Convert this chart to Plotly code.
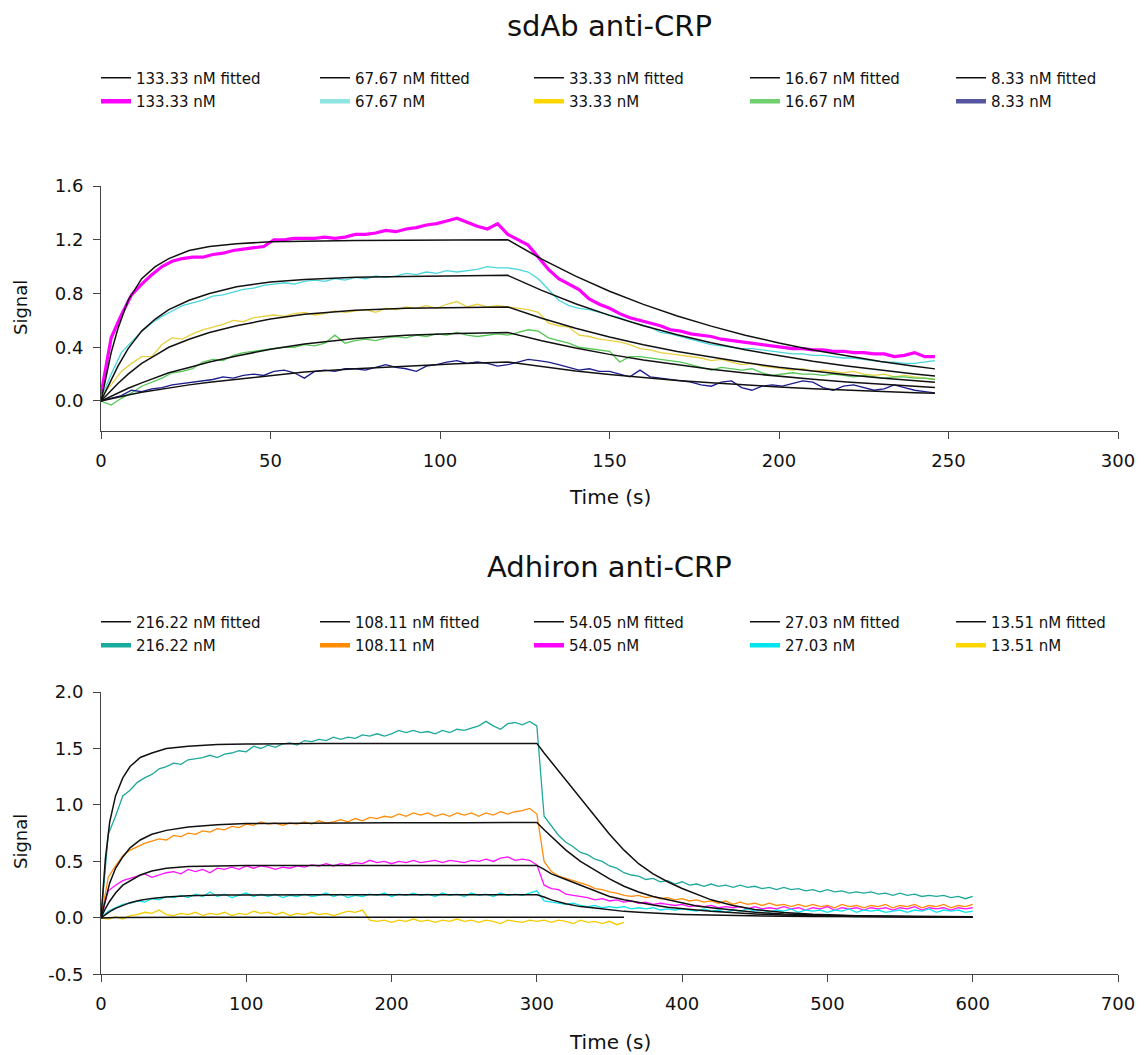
import plotly.graph_objects as go

FONT = "DejaVu Sans"

# ---------------- sdAb anti-CRP (top) ----------------
T_TOP = list(range(0, 247, 3))
TOP_LABELS = ["133.33 nM", "67.67 nM", "33.33 nM", "16.67 nM", "8.33 nM"]

TOP_133 = [0.05, 0.47, 0.64, 0.79, 0.87, 0.94, 1.00, 1.04, 1.06, 1.07,
           1.07, 1.09, 1.10, 1.12, 1.13, 1.14, 1.15, 1.20, 1.20, 1.21,
           1.21, 1.21, 1.22, 1.21, 1.22, 1.24, 1.24, 1.25, 1.27, 1.26,
           1.28, 1.29, 1.31, 1.32, 1.34, 1.36, 1.33, 1.30, 1.28, 1.32,
           1.24, 1.20, 1.16, 1.07, 0.98, 0.91, 0.87, 0.83, 0.76, 0.72,
           0.69, 0.65, 0.62, 0.60, 0.58, 0.56, 0.53, 0.52, 0.50, 0.49,
           0.48, 0.46, 0.45, 0.44, 0.43, 0.42, 0.41, 0.40, 0.39, 0.39,
           0.38, 0.38, 0.37, 0.37, 0.36, 0.36, 0.35, 0.35, 0.33, 0.34,
           0.36, 0.33, 0.33]
TOP_67 = [0.02, 0.20, 0.36, 0.44, 0.52, 0.58, 0.63, 0.67, 0.71, 0.73,
          0.75, 0.78, 0.79, 0.81, 0.83, 0.84, 0.86, 0.87, 0.88, 0.87,
          0.89, 0.90, 0.89, 0.91, 0.90, 0.92, 0.91, 0.93, 0.92, 0.93,
          0.95, 0.94, 0.96, 0.95, 0.97, 0.96, 0.97, 0.98, 1.00, 0.99,
          0.99, 0.98, 0.96, 0.91, 0.83, 0.75, 0.71, 0.69, 0.68, 0.66,
          0.64, 0.62, 0.59, 0.57, 0.55, 0.51, 0.50, 0.48, 0.46, 0.44,
          0.42, 0.41, 0.40, 0.39, 0.39, 0.38, 0.37, 0.36, 0.35, 0.35,
          0.34, 0.34, 0.33, 0.32, 0.32, 0.31, 0.30, 0.29, 0.29, 0.28,
          0.28, 0.29, 0.30]
TOP_33 = [0.04, 0.12, 0.22, 0.28, 0.33, 0.33, 0.42, 0.47, 0.46, 0.50,
          0.53, 0.55, 0.57, 0.60, 0.59, 0.62, 0.63, 0.64, 0.63, 0.65,
          0.66, 0.64, 0.65, 0.67, 0.66, 0.67, 0.68, 0.66, 0.69, 0.68,
          0.70, 0.69, 0.71, 0.69, 0.72, 0.74, 0.70, 0.72, 0.70, 0.71,
          0.70, 0.69, 0.68, 0.66, 0.58, 0.56, 0.55, 0.49, 0.48, 0.46,
          0.45, 0.44, 0.42, 0.39, 0.38, 0.36, 0.35, 0.34, 0.33, 0.32,
          0.30, 0.31, 0.29, 0.27, 0.28, 0.26, 0.25, 0.24, 0.23, 0.24,
          0.22, 0.23, 0.22, 0.21, 0.22, 0.20, 0.19, 0.20, 0.18, 0.19,
          0.18, 0.17, 0.16]
TOP_16 = [0.00, -0.03, 0.02, 0.06, 0.11, 0.14, 0.17, 0.21, 0.22, 0.24,
          0.29, 0.31, 0.30, 0.34, 0.36, 0.37, 0.38, 0.39, 0.40, 0.40,
          0.42, 0.41, 0.43, 0.49, 0.43, 0.45, 0.46, 0.45, 0.47, 0.48,
          0.47, 0.49, 0.48, 0.50, 0.49, 0.51, 0.49, 0.48, 0.49, 0.50,
          0.49, 0.51, 0.53, 0.52, 0.47, 0.45, 0.43, 0.40, 0.39, 0.38,
          0.37, 0.29, 0.33, 0.33, 0.32, 0.31, 0.30, 0.29, 0.27, 0.25,
          0.23, 0.25, 0.24, 0.23, 0.24, 0.21, 0.19, 0.20, 0.21, 0.20,
          0.20, 0.19, 0.20, 0.19, 0.18, 0.19, 0.18, 0.17, 0.18, 0.18,
          0.17, 0.17, 0.16]
TOP_8 = [0.00, 0.02, 0.04, 0.08, 0.07, 0.09, 0.10, 0.12, 0.13, 0.14,
         0.15, 0.16, 0.18, 0.17, 0.19, 0.20, 0.19, 0.22, 0.23, 0.21,
         0.17, 0.22, 0.23, 0.22, 0.24, 0.24, 0.23, 0.25, 0.27, 0.25,
         0.24, 0.22, 0.26, 0.27, 0.29, 0.30, 0.28, 0.29, 0.28, 0.26,
         0.27, 0.29, 0.31, 0.30, 0.29, 0.27, 0.25, 0.23, 0.24, 0.22,
         0.22, 0.20, 0.18, 0.23, 0.18, 0.17, 0.16, 0.15, 0.14, 0.12,
         0.11, 0.14, 0.15, 0.10, 0.08, 0.11, 0.12, 0.11, 0.13, 0.15,
         0.14, 0.10, 0.08, 0.11, 0.12, 0.10, 0.08, 0.09, 0.12, 0.10,
         0.08, 0.07, 0.06]

T_FIT_TOP = [0, 3, 5, 8, 12, 16, 20, 26, 32, 40, 50, 60, 75, 90, 105, 120,
             130, 140, 150, 160, 170, 180, 190, 200, 210, 220, 230, 240, 246]
FIT_133 = [0, 0.36, 0.54, 0.75, 0.91, 1.00, 1.06, 1.12, 1.15, 1.17, 1.185, 1.19, 1.195, 1.197, 1.2, 1.2,
           1.056, 0.929, 0.817, 0.719, 0.632, 0.557, 0.49, 0.431, 0.379, 0.334, 0.294, 0.258, 0.239]
FIT_67 = [0, 0.16, 0.26, 0.39, 0.52, 0.61, 0.68, 0.75, 0.80, 0.85, 0.885, 0.905, 0.92, 0.927, 0.932, 0.935,
          0.823, 0.724, 0.637, 0.56, 0.493, 0.434, 0.381, 0.336, 0.295, 0.26, 0.229, 0.201, 0.186]
FIT_33 = [0, 0.08, 0.13, 0.20, 0.28, 0.34, 0.40, 0.46, 0.51, 0.56, 0.61, 0.645, 0.675, 0.69, 0.697, 0.70,
          0.616, 0.542, 0.477, 0.419, 0.369, 0.325, 0.286, 0.251, 0.221, 0.195, 0.172, 0.151, 0.14]
FIT_16 = [0, 0.037, 0.06, 0.095, 0.135, 0.17, 0.21, 0.25, 0.29, 0.335, 0.385, 0.425, 0.465, 0.49, 0.503, 0.51,
          0.449, 0.395, 0.347, 0.305, 0.269, 0.237, 0.208, 0.183, 0.161, 0.142, 0.125, 0.11, 0.10]
FIT_8 = [0, 0.018, 0.03, 0.045, 0.065, 0.082, 0.097, 0.12, 0.14, 0.163, 0.19, 0.215, 0.24, 0.26, 0.278, 0.29,
         0.255, 0.224, 0.197, 0.174, 0.153, 0.135, 0.118, 0.104, 0.092, 0.081, 0.071, 0.062, 0.058]

TOP_PLOT_COLORS = ["#ff00ff", "#48d6dc", "#e8d040", "#55c855", "#1c1c8c"]
TOP_LEGEND_COLORS = ["#ff00ff", "#8fe3e0", "#ffd700", "#70d070", "#5555a0"]
TOP_WIDTHS = [3.2, 1.3, 1.3, 1.3, 1.3]

# ---------------- Adhiron anti-CRP (bottom) ----------------
T_BOT = list(range(0, 601, 5))
BOT_LABELS = ["216.22 nM", "108.11 nM", "54.05 nM", "27.03 nM", "13.51 nM"]

BOT_216 = [0.00, 0.74, 0.90, 1.08, 1.13, 1.20, 1.24, 1.27, 1.32, 1.34,
           1.37, 1.36, 1.40, 1.41, 1.42, 1.44, 1.42, 1.45, 1.46, 1.48,
           1.47, 1.52, 1.50, 1.53, 1.51, 1.54, 1.55, 1.53, 1.57, 1.56,
           1.58, 1.57, 1.60, 1.58, 1.60, 1.59, 1.62, 1.61, 1.63, 1.61,
           1.63, 1.66, 1.64, 1.66, 1.64, 1.65, 1.63, 1.66, 1.64, 1.67,
           1.66, 1.68, 1.70, 1.74, 1.70, 1.67, 1.72, 1.73, 1.71, 1.74,
           1.70, 0.90, 0.82, 0.73, 0.67, 0.63, 0.58, 0.56, 0.52, 0.50,
           0.46, 0.44, 0.40, 0.38, 0.37, 0.34, 0.35, 0.32, 0.33, 0.30,
           0.32, 0.29, 0.30, 0.28, 0.30, 0.28, 0.29, 0.27, 0.29, 0.27,
           0.28, 0.26, 0.27, 0.25, 0.27, 0.25, 0.26, 0.24, 0.25, 0.23,
           0.25, 0.23, 0.24, 0.22, 0.23, 0.22, 0.23, 0.21, 0.22, 0.20,
           0.22, 0.20, 0.21, 0.19, 0.20, 0.19, 0.20, 0.18, 0.19, 0.17,
           0.19]
BOT_108 = [0.00, 0.36, 0.46, 0.55, 0.60, 0.63, 0.66, 0.68, 0.70, 0.69,
           0.73, 0.72, 0.75, 0.74, 0.77, 0.76, 0.79, 0.78, 0.81, 0.80,
           0.83, 0.82, 0.85, 0.83, 0.84, 0.82, 0.84, 0.83, 0.85, 0.83,
           0.86, 0.84, 0.85, 0.87, 0.85, 0.88, 0.86, 0.89, 0.88, 0.90,
           0.89, 0.92, 0.90, 0.93, 0.91, 0.93, 0.90, 0.92, 0.90, 0.93,
           0.91, 0.93, 0.90, 0.93, 0.91, 0.94, 0.92, 0.94, 0.95, 0.97,
           0.92, 0.50, 0.41, 0.37, 0.35, 0.33, 0.31, 0.29, 0.26, 0.25,
           0.23, 0.22, 0.20, 0.19, 0.20, 0.18, 0.19, 0.17, 0.18, 0.16,
           0.17, 0.15, 0.16, 0.14, 0.15, 0.13, 0.15, 0.12, 0.14, 0.12,
           0.13, 0.11, 0.13, 0.11, 0.12, 0.10, 0.12, 0.10, 0.12, 0.10,
           0.11, 0.09, 0.12, 0.10, 0.11, 0.09, 0.11, 0.10, 0.12, 0.09,
           0.11, 0.10, 0.12, 0.09, 0.11, 0.10, 0.12, 0.09, 0.11, 0.10,
           0.12]
BOT_54 = [0.00, 0.24, 0.29, 0.33, 0.35, 0.37, 0.39, 0.36, 0.38, 0.40,
          0.41, 0.39, 0.43, 0.41, 0.43, 0.40, 0.44, 0.43, 0.45, 0.43,
          0.46, 0.44, 0.46, 0.45, 0.43, 0.45, 0.44, 0.46, 0.45, 0.47,
          0.46, 0.48, 0.46, 0.48, 0.47, 0.49, 0.48, 0.51, 0.49, 0.50,
          0.48, 0.50, 0.49, 0.51, 0.49, 0.50, 0.51, 0.49, 0.51, 0.50,
          0.49, 0.51, 0.50, 0.52, 0.50, 0.53, 0.54, 0.51, 0.52, 0.51,
          0.47, 0.29, 0.26, 0.25, 0.21, 0.20, 0.19, 0.18, 0.16, 0.17,
          0.15, 0.16, 0.14, 0.15, 0.13, 0.14, 0.12, 0.13, 0.12, 0.11,
          0.12, 0.10, 0.11, 0.10, 0.11, 0.09, 0.10, 0.09, 0.10, 0.08,
          0.10, 0.08, 0.09, 0.08, 0.10, 0.08, 0.09, 0.07, 0.09, 0.08,
          0.10, 0.07, 0.09, 0.08, 0.09, 0.07, 0.09, 0.08, 0.09, 0.07,
          0.09, 0.08, 0.10, 0.07, 0.09, 0.08, 0.09, 0.07, 0.09, 0.08,
          0.09]
BOT_27 = [0.00, 0.06, 0.09, 0.12, 0.13, 0.15, 0.14, 0.17, 0.16, 0.19,
          0.18, 0.20, 0.18, 0.21, 0.19, 0.23, 0.19, 0.21, 0.18, 0.20,
          0.22, 0.19, 0.21, 0.19, 0.21, 0.18, 0.20, 0.19, 0.21, 0.19,
          0.20, 0.22, 0.19, 0.21, 0.18, 0.20, 0.19, 0.21, 0.20, 0.22,
          0.19, 0.21, 0.20, 0.22, 0.20, 0.21, 0.19, 0.22, 0.20, 0.21,
          0.19, 0.22, 0.20, 0.21, 0.19, 0.22, 0.20, 0.21, 0.20, 0.22,
          0.24, 0.15, 0.14, 0.13, 0.12, 0.13, 0.11, 0.10, 0.11, 0.09,
          0.10, 0.09, 0.10, 0.08, 0.09, 0.08, 0.09, 0.07, 0.08, 0.07,
          0.08, 0.07, 0.06, 0.08, 0.06, 0.07, 0.05, 0.07, 0.06, 0.08,
          0.06, 0.07, 0.05, 0.07, 0.06, 0.08, 0.05, 0.07, 0.06, 0.07,
          0.05, 0.07, 0.06, 0.08, 0.05, 0.07, 0.06, 0.07, 0.05, 0.06,
          0.07, 0.05, 0.07, 0.06, 0.08, 0.05, 0.07, 0.06, 0.07, 0.05,
          0.06]
BOT_13 = [0.00, -0.01, 0.01, -0.01, 0.02, 0.03, 0.05, 0.04, 0.07, 0.03,
          0.02, 0.04, 0.03, 0.05, 0.02, 0.04, 0.03, 0.05, 0.02, 0.04,
          0.03, 0.06, 0.04, 0.05, 0.03, 0.05, 0.02, 0.04, 0.03, 0.05,
          0.03, 0.04, 0.02, 0.04, 0.06, 0.05, 0.07, -0.02, -0.03, -0.02,
          -0.04, -0.02, -0.03, -0.01, -0.03, -0.02, -0.04, -0.02, -0.03, -0.01,
          -0.03, -0.02, -0.04, -0.02, -0.03, -0.05, -0.02, -0.03, -0.04, -0.02,
          -0.03, -0.02, -0.04, -0.02, -0.03, -0.05, -0.02, -0.04, -0.03, -0.05,
          -0.03, -0.06, -0.04]

T_FIT_BOT = [0, 3, 6, 10, 15, 20, 27, 35, 45, 60, 80, 100, 150, 200, 250, 300,
             305, 310, 320, 330, 340, 350, 360, 370, 380, 390, 400, 410, 420, 435,
             450, 470, 490, 520, 560, 600]
FIT_216 = [0, 0.52, 0.85, 1.08, 1.24, 1.34, 1.42, 1.46, 1.50, 1.52, 1.535, 1.54, 1.545, 1.545, 1.545, 1.545,
           1.46, 1.38, 1.23, 1.07, 0.90, 0.74, 0.60, 0.48, 0.39, 0.32, 0.26, 0.21, 0.16, 0.11,
           0.075, 0.047, 0.032, 0.02, 0.013, 0.01]
FIT_108 = [0, 0.17, 0.31, 0.44, 0.54, 0.62, 0.69, 0.74, 0.775, 0.805, 0.825, 0.835, 0.84, 0.842, 0.843, 0.845,
           0.78, 0.72, 0.60, 0.50, 0.42, 0.345, 0.28, 0.23, 0.19, 0.16, 0.13, 0.105, 0.09, 0.068,
           0.05, 0.035, 0.025, 0.016, 0.011, 0.008]
FIT_54 = [0, 0.083, 0.148, 0.22, 0.29, 0.33, 0.38, 0.415, 0.44, 0.455, 0.46, 0.463, 0.465, 0.465, 0.465, 0.465,
          0.43, 0.39, 0.34, 0.29, 0.235, 0.19, 0.16, 0.135, 0.115, 0.095, 0.08, 0.07, 0.058, 0.045,
          0.035, 0.025, 0.018, 0.012, 0.009, 0.007]
FIT_27 = [0, 0.03, 0.055, 0.085, 0.113, 0.135, 0.156, 0.173, 0.186, 0.197, 0.202, 0.204, 0.205, 0.205, 0.205, 0.205,
          0.185, 0.16, 0.125, 0.10, 0.088, 0.07, 0.058, 0.05, 0.042, 0.036, 0.031, 0.027, 0.024, 0.02,
          0.017, 0.014, 0.012, 0.01, 0.009, 0.008]
T_FIT_13 = [0, 10, 60, 360]
FIT_13 = [0.0, 0.004, 0.005, 0.005]

BOT_PLOT_COLORS = ["#1fa89c", "#ff8c0a", "#ff10ff", "#10e4ee", "#f5cc00"]
BOT_LEGEND_COLORS = ["#1aab9f", "#ff8c00", "#ff00ff", "#00e5ee", "#ffd700"]

# tick labels
TOP_X_TICKS = [0, 50, 100, 150, 200, 250, 300]
TOP_Y_TICKS = [0.0, 0.4, 0.8, 1.2, 1.6]
TOP_Y_TEXT = ["0.0", "0.4", "0.8", "1.2", "1.6"]
BOT_X_TICKS = [0, 100, 200, 300, 400, 500, 600, 700]
BOT_Y_TICKS = [-0.5, 0.0, 0.5, 1.0, 1.5, 2.0]
BOT_Y_TEXT = ["-0.5", "0.0", "0.5", "1.0", "1.5", "2.0"]

# ---------------- figure ----------------
# the page body has an 8px margin, so the figure is drawn 8px in from the corner
OFF = 8
W, H = 1145 - OFF, 1055 - OFF
L = 101 - OFF
R = W - (1118 - OFF)
PW = W - L - R


def px_x(p):
    """target-screenshot pixel x -> paper x"""
    return (p - OFF - L) / PW


def px_y(p):
    """target-screenshot pixel y -> paper y (t=b=0 margins)"""
    return (H - (p - OFF)) / H


fig = go.Figure()

top_data = [TOP_133, TOP_67, TOP_33, TOP_16, TOP_8]
top_fit = [FIT_133, FIT_67, FIT_33, FIT_16, FIT_8]
bot_data = [BOT_216, BOT_108, BOT_54, BOT_27, BOT_13]
bot_fit = [FIT_216, FIT_108, FIT_54, FIT_27, FIT_13]
bot_fit_t = [T_FIT_BOT, T_FIT_BOT, T_FIT_BOT, T_FIT_BOT, T_FIT_13]

# data traces (under the fitted curves)
for i in range(5):
    fig.add_trace(go.Scatter(x=T_TOP[:len(top_data[i])], y=top_data[i], mode="lines",
                             line=dict(color=TOP_PLOT_COLORS[i], width=TOP_WIDTHS[i]),
                             showlegend=False, xaxis="x", yaxis="y", hoverinfo="skip"))
for i in range(5):
    fig.add_trace(go.Scatter(x=T_BOT[:len(bot_data[i])], y=bot_data[i], mode="lines",
                             line=dict(color=BOT_PLOT_COLORS[i], width=1.3),
                             showlegend=False, xaxis="x2", yaxis="y2", hoverinfo="skip"))

COL_PX = [96, 315, 529, 745, 951]
legends = {}
for i in range(5):
    lg = "legend" if i == 0 else f"legend{i + 1}"
    fig.add_trace(go.Scatter(x=T_FIT_TOP, y=top_fit[i], mode="lines",
                             line=dict(color="#111111", width=1.5), legendgroup=f"tf{i}",
                             name=f"{TOP_LABELS[i]} fitted", legend=lg, xaxis="x", yaxis="y"))
    fig.add_trace(go.Scatter(x=[None], y=[None], mode="lines", legendgroup=f"td{i}",
                             line=dict(color=TOP_LEGEND_COLORS[i], width=4.5),
                             name=TOP_LABELS[i], legend=lg, xaxis="x", yaxis="y"))
    legends[lg] = dict(x=px_x(COL_PX[i]), y=px_y(61.5), xanchor="left", yanchor="top")
for i in range(5):
    lg = f"legend{i + 6}"
    fig.add_trace(go.Scatter(x=bot_fit_t[i], y=bot_fit[i], mode="lines",
                             line=dict(color="#111111", width=1.5), legendgroup=f"bf{i}",
                             name=f"{BOT_LABELS[i]} fitted", legend=lg, xaxis="x2", yaxis="y2"))
    fig.add_trace(go.Scatter(x=[None], y=[None], mode="lines", legendgroup=f"bd{i}",
                             line=dict(color=BOT_LEGEND_COLORS[i], width=4.5),
                             name=BOT_LABELS[i], legend=lg, xaxis="x2", yaxis="y2"))
    legends[lg] = dict(x=px_x(COL_PX[i]), y=px_y(605.5), xanchor="left", yanchor="top")

for k, v in legends.items():
    v.update(orientation="v", font=dict(family=FONT, size=15, color="#111111"),
             bgcolor="rgba(0,0,0,0)", borderwidth=0, tracegroupgap=1, itemwidth=30,
             traceorder="grouped")

axis_common = dict(showline=True, linecolor="#444444", linewidth=1, ticks="outside",
                   ticklen=7, tickcolor="#444444", tickwidth=1, showgrid=False, zeroline=False,
                   tickfont=dict(family=FONT, size=18, color="#111111"), ticklabelstandoff=6)

layout = dict(
    width=W, height=H,
    margin=dict(l=L, r=R, t=0, b=0, autoexpand=False),
    paper_bgcolor="white", plot_bgcolor="white",
    font=dict(family=FONT, color="#111111"),
    xaxis=dict(domain=[0, 1], range=[0, 300], tickvals=TOP_X_TICKS, anchor="y", **axis_common),
    yaxis=dict(domain=[px_y(431), px_y(186)], range=[-0.2233, 1.6], tickvals=TOP_Y_TICKS,
               ticktext=TOP_Y_TEXT, anchor="x", **axis_common),
    xaxis2=dict(domain=[0, 1], range=[0, 700], tickvals=BOT_X_TICKS, anchor="y2", **axis_common),
    yaxis2=dict(domain=[px_y(974.4), px_y(692)], range=[-0.5, 2.0], tickvals=BOT_Y_TICKS,
                ticktext=BOT_Y_TEXT, anchor="x2", **axis_common),
    annotations=[
        dict(text="sdAb anti-CRP", xref="paper", yref="paper", x=px_x(609.5), y=px_y(8),
             xanchor="center", yanchor="top", showarrow=False, borderpad=0,
             font=dict(family=FONT, size=29)),
        dict(text="Adhiron anti-CRP", xref="paper", yref="paper", x=px_x(609.5), y=px_y(567),
             xanchor="center", yanchor="middle", showarrow=False, font=dict(family=FONT, size=29)),
        dict(text="Time (s)", xref="paper", yref="paper", x=px_x(609.5), y=px_y(497),
             xanchor="center", yanchor="middle", showarrow=False, font=dict(family=FONT, size=20)),
        dict(text="Time (s)", xref="paper", yref="paper", x=px_x(609.5), y=px_y(1042),
             xanchor="center", yanchor="middle", showarrow=False, font=dict(family=FONT, size=20)),
        dict(text="Signal", xref="paper", yref="paper", x=px_x(20), y=px_y(308), textangle=-90,
             xanchor="center", yanchor="middle", showarrow=False, font=dict(family=FONT, size=18)),
        dict(text="Signal", xref="paper", yref="paper", x=px_x(20), y=px_y(842), textangle=-90,
             xanchor="center", yanchor="middle", showarrow=False, font=dict(family=FONT, size=18)),
    ],
)
layout.update(legends)
fig.update_layout(**layout)

fig.write_html("out.html")
